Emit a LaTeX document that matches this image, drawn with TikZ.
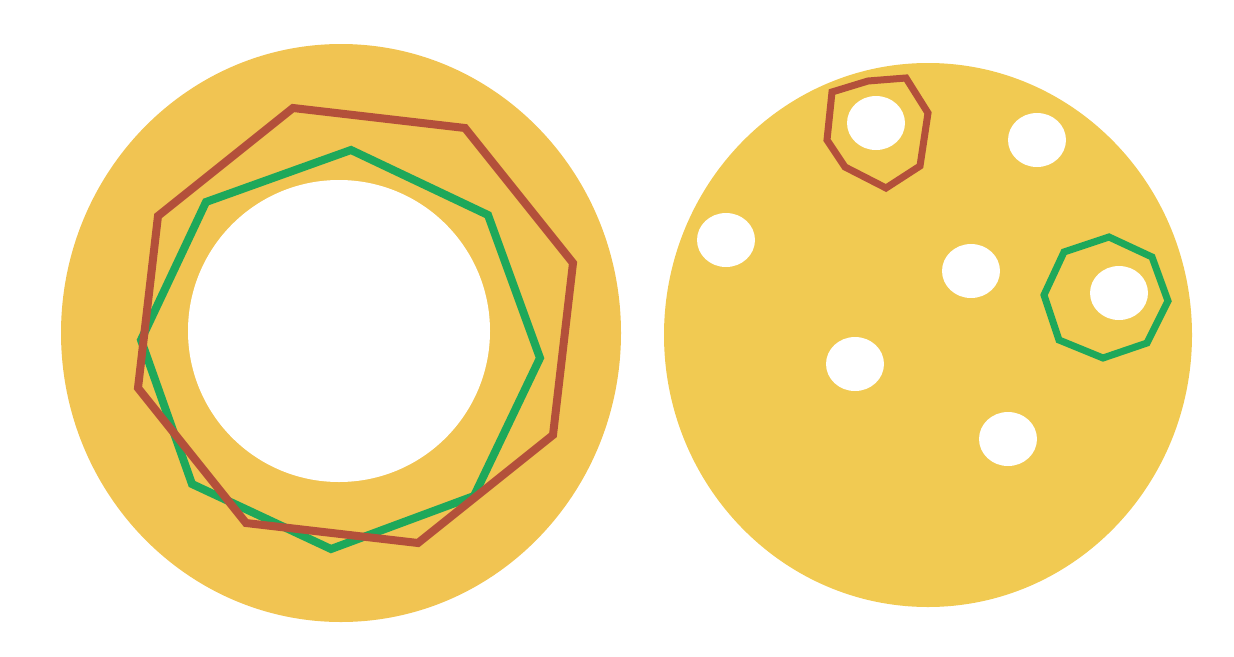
\documentclass[tikz,border=0pt]{standalone}
\definecolor{gold}{HTML}{F1C452}
\definecolor{gold2}{HTML}{F1CA52}
\definecolor{rust}{HTML}{B3503A}
\definecolor{leaf}{HTML}{1EA85A}
\tikzset{
  ringline/.style={line width=8pt, line join=miter},
  smallline/.style={line width=7pt, line join=miter},
  hole/.style={fill=white, draw=none}
}
\begin{document}
\begin{tikzpicture}[x=1pt,y=-1pt]
\useasboundingbox (0,0) rectangle (1234,656);
% left ring
\fill[gold] (341,333) ellipse [x radius=280, y radius=289];
\fill[white] (339,331) circle [radius=151];
\draw[ringline, leaf] (351,150) -- (488,215) -- (540,358) -- (474,496) -- (331,549) -- (192,484) -- (141,340) -- (206,202) -- cycle;
\draw[ringline, rust] (293,108) -- (465,128) -- (573,263) -- (553,435) -- (418,543) -- (246,523) -- (138,388) -- (158,216) -- cycle;
% right disk
\fill[gold2] (928,335) ellipse [x radius=264, y radius=272];
\foreach \p in {(876,123),(1037,140),(726,240),(971,271),(1119,293),(855,364),(1008,439)}
  \fill[hole] \p ellipse [x radius=29, y radius=27];
\draw[smallline, rust] (832,92) -- (868,81) -- (906,78) -- (928,113) -- (920,166) -- (886,188) -- (845,167) -- (827,140) -- cycle;
\draw[smallline, leaf] (1064,252) -- (1109,237) -- (1152,257) -- (1168,301) -- (1147,343) -- (1103,358) -- (1059,340) -- (1044,295) -- cycle;
\end{tikzpicture}
\end{document}
